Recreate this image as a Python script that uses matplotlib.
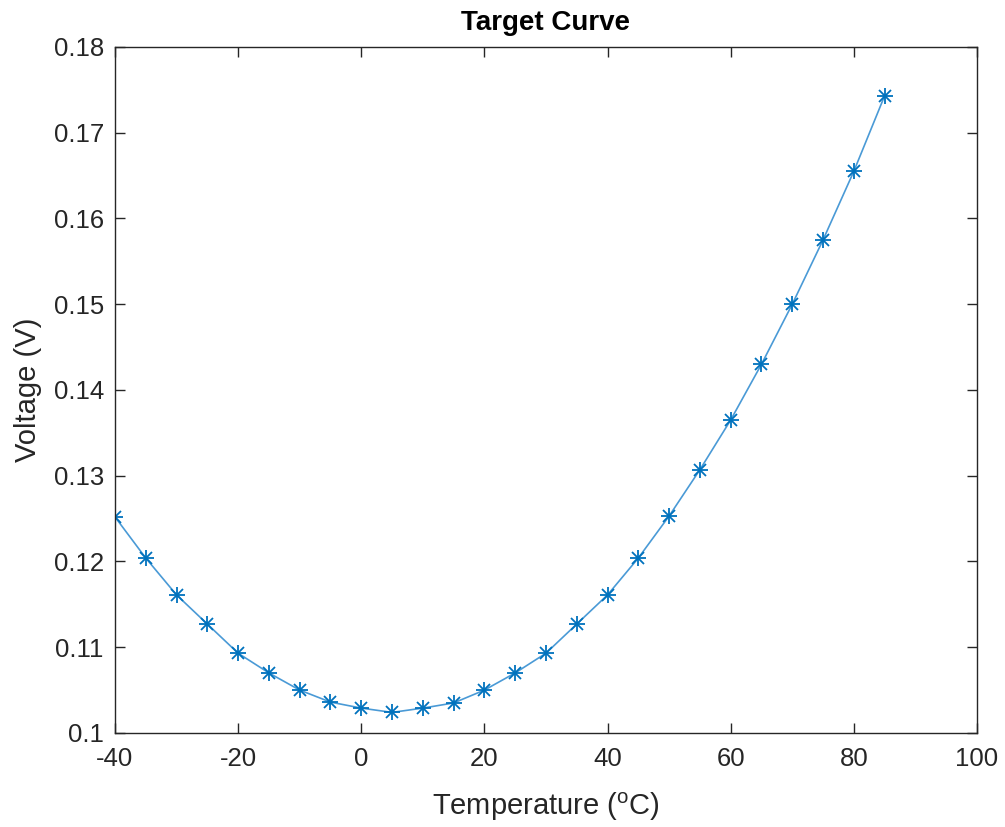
import matplotlib
matplotlib.use("Agg")
import matplotlib.pyplot as plt

# temperature sweep and measured voltage
temp = [-40, -35, -30, -25, -20, -15, -10, -5, 0, 5, 10, 15, 20, 25, 30,
        35, 40, 45, 50, 55, 60, 65, 70, 75, 80, 85]
volt = [0.1252, 0.1204, 0.1161, 0.1127, 0.1093, 0.1070, 0.1050, 0.1036,
        0.1029, 0.1024, 0.1029, 0.1035, 0.1050, 0.1070, 0.1093, 0.1127,
        0.1161, 0.1204, 0.1253, 0.1307, 0.1365, 0.1430, 0.1500, 0.1575,
        0.1655, 0.1743]

xticks = [-40, -20, 0, 20, 40, 60, 80, 100]
xtick_labels = ['-40', '-20', '0', '20', '40', '60', '80', '100']
yticks = [0.10, 0.11, 0.12, 0.13, 0.14, 0.15, 0.16, 0.17, 0.18]
ytick_labels = ['0.1', '0.11', '0.12', '0.13', '0.14', '0.15', '0.16', '0.17', '0.18']

plt.rcParams['font.family'] = ['Liberation Sans', 'DejaVu Sans']
dark = '#262626'

fig = plt.figure(figsize=(10.05, 8.27), dpi=100)
ax = fig.add_axes([0.1144, 0.1137, 0.8577, 0.8295])

# MATLAB style asterisk = plus + cross
ax.plot(temp, volt, color='#4a9ad6', lw=1.2)
ax.plot(temp, volt, ls='none', marker='+', ms=12, mew=1.3, color='#0072BD')
ax.plot(temp, volt, ls='none', marker='x', ms=8.5, mew=1.3, color='#0072BD')

ax.set_xlim(-40, 100)
ax.set_ylim(0.1, 0.18)
ax.set_xticks(xticks)
ax.set_xticklabels(xtick_labels)
ax.set_yticks(yticks)
ax.set_yticklabels(ytick_labels)

ax.tick_params(direction='in', length=7, width=1, top=True, right=True,
               labelsize=18.5, colors=dark)
ax.tick_params(axis='x', pad=10)
ax.tick_params(axis='y', pad=8)
for s in ax.spines.values():
    s.set_color(dark)
    s.set_linewidth(1)

ax.set_xlabel('Temperature ($\\mathregular{^{o}}$C)', fontsize=21, color=dark, labelpad=14)
ax.set_ylabel('Voltage (V)', fontsize=21, color=dark, labelpad=8)
ax.set_title('Target Curve', fontsize=20, fontweight='bold', color='black', pad=12)

fig.savefig('out.png', dpi=100)
